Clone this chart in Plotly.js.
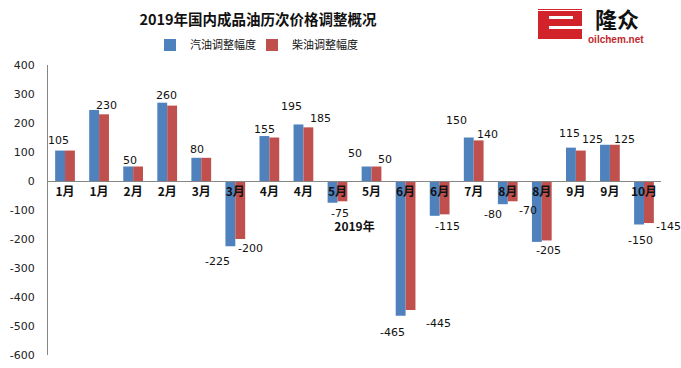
<!DOCTYPE html>
<html>
<head>
<meta charset="utf-8">
<script src="https://cdn.plot.ly/plotly-3.0.1.min.js"></script>
<style>html,body{margin:0;padding:0;background:#fff;}#chart{width:681px;height:368px;}</style>
</head>
<body>
<div id="chart"></div>
<script>
// ---- data ----
var categories = ["1月","1月","2月","2月","3月","3月","4月","4月","5月","5月","6月","6月","7月","8月","8月","9月","9月","10月"];
var gasoline = [105, 245, 50, 270, 80, -225, 155, 195, -75, 50, -465, -120, 150, -80, -210, 115, 125, -150];
var diesel   = [105, 230, 50, 260, 80, -200, 150, 185, -70, 50, -445, -115, 140, -70, -205, 105, 125, -145];
var gasolineLabels = ["105","","50","","80","-225","155","195","-75","50","-465","","150","-80","","115","125","-150"];
var dieselLabels   = ["","230","","260","","-200","","185","","50","-445","-115","140","-70","-205","","125","-145"];
var seriesNames = ["汽油调整幅度","柴油调整幅度"];
var yTicks = [400,300,200,100,0,-100,-200,-300,-400,-500,-600];

// ---- label placement offsets (px, style only) ----
var gasDx = [-2,0,2,0,1,-13,0,-7,7,-12,-8,0,-12,-10,0,-1,-12,1];
var gasDy = [10,0,6,0,8,-15,7,18,-11,13,-17,0,17,-10,0,14,5,-16];
var dieDx = [0,2,0,-6,0,10,0,12,0,9,28,3,9,15,2,0,10,20];
var dieDy = [0,9,0,10,0,-9,0,9,0,7,-13,-12,6,-9,-10,0,5,-3];

var idx = categories.map(function(_, i){ return i; });
var W = 681, H = 368, L = 48, R = 20, T = 65, B = 13;
function px(x){ return (x - L) / (W - L - R); }
function py(y){ return (H - B - y) / (H - T - B); }

var cjk = '"Noto Sans CJK SC", "Noto Sans", sans-serif';
var num = '"DejaVu Sans", Verdana, sans-serif';
var barOff = 0.145; // half-bar offset within group (category units)

var traces = [
  {type:'bar', x: idx, y: gasoline, name: seriesNames[0], marker:{color:'#4F81BD'}, legend:'legend'},
  {type:'bar', x: idx, y: diesel, name: seriesNames[1], marker:{color:'#C0504D'}, legend:'legend2'}
];

var annotations = [];
function addLabels(vals, labels, dx, dy, off){
  vals.forEach(function(v, i){
    if (!labels[i]) return;
    annotations.push({x: i + off, y: v, xref:'x', yref:'y', text: labels[i], showarrow:false,
      xanchor:'center', yanchor:'middle', xshift: dx[i], yshift: dy[i],
      font:{family:num, size:11, color:'#111'}});
  });
}
addLabels(gasoline, gasolineLabels, gasDx, gasDy, -barOff);
addLabels(diesel, dieselLabels, dieDx, dieDy, barOff);

annotations.push(
  {xref:'paper', yref:'paper', x:px(617), y:py(18), text:'<b>隆众</b>', showarrow:false,
   font:{family:cjk, size:22, color:'#111'}, xanchor:'center', yanchor:'middle'},
  {xref:'paper', yref:'paper', x:px(616), y:py(40), text:'<b>oilchem.net</b>', showarrow:false,
   font:{family:'"Liberation Sans", Arial, sans-serif', size:10, color:'#C0272D'}, xanchor:'center', yanchor:'middle'}
);

var shapes = [
  {type:'rect', xref:'paper', yref:'paper', x0:px(538), x1:px(582), y0:py(39), y1:py(9), fillcolor:'#D2232A', line:{width:0}, layer:'above'},
  {type:'rect', xref:'paper', yref:'paper', x0:px(549), x1:px(573), y0:py(19), y1:py(16), fillcolor:'#ffffff', line:{width:0}, layer:'above'},
  {type:'rect', xref:'paper', yref:'paper', x0:px(549), x1:px(583), y0:py(29), y1:py(26), fillcolor:'#ffffff', line:{width:0}, layer:'above'},
  {type:'rect', xref:'paper', yref:'paper', x0:px(538), x1:px(582), y0:py(11), y1:py(10), fillcolor:'#ffffff', line:{width:0}, layer:'above'}
];

var legendFont = {family:cjk, size:11, color:'#111'};
var layout = {
  width: W, height: H,
  margin:{l:L, r:R, t:T, b:B},
  paper_bgcolor:'#fff', plot_bgcolor:'#fff',
  barmode:'group', bargap:0.42, bargroupgap:0,
  title:{text:'<b>2019年国内成品油历次价格调整概况</b>', font:{family:cjk, size:14.5, color:'#111'},
         x:258/W, xanchor:'center', xref:'container', y:1-20/H, yanchor:'middle', yref:'container'},
  showlegend:true,
  legend:{orientation:'h', x:px(150), xanchor:'left', y:py(45), yanchor:'middle',
          font:legendFont, itemwidth:30, bgcolor:'rgba(0,0,0,0)'},
  legend2:{orientation:'h', x:px(252), xanchor:'left', y:py(45), yanchor:'middle',
          font:legendFont, itemwidth:30, bgcolor:'rgba(0,0,0,0)'},
  xaxis:{tickmode:'array', tickvals: idx, ticktext: categories, range:[-0.5, categories.length-0.5],
         anchor:'free', position:0.6, showline:true, linecolor:'#868686', linewidth:1,
         ticks:'', showgrid:false, zeroline:false, fixedrange:true,
         tickfont:{family:cjk, size:12, color:'#111', weight:'bold'},
         title:{text:'<b>2019年</b>', font:{family:cjk, size:12, color:'#111'}, standoff:24}},
  yaxis:{range:[-600,400], tickmode:'array', tickvals:yTicks, ticktext:yTicks.map(String),
         showline:true, linecolor:'#868686', linewidth:1, showgrid:false, zeroline:false,
         ticks:'', ticklabelstandoff:10, tickfont:{family:num, size:11, color:'#222'}},
  shapes: shapes,
  annotations: annotations
};

Plotly.newPlot('chart', traces, layout, {displayModeBar:false, staticPlot:true});
</script>
</body>
</html>
